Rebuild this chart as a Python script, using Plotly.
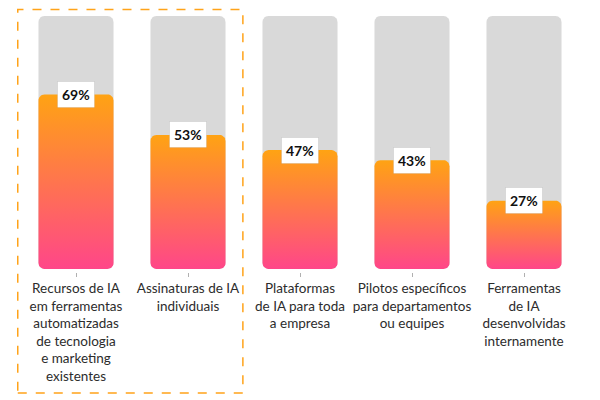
import numpy as np
import plotly.graph_objects as go

# chart data
categories = [
    "Recursos de IA<br>em ferramentas<br>automatizadas<br>de tecnologia<br>e marketing<br>existentes",
    "Assinaturas de IA<br>individuais",
    "Plataformas<br>de IA para toda<br>a empresa",
    "Pilotos específicos<br>para departamentos<br>ou equipes",
    "Ferramentas<br>de IA<br>desenvolvidas<br>internamente",
]
values = [69, 53, 47, 43, 27]
full = [100, 100, 100, 100, 100]
labels = ["69%", "53%", "47%", "43%", "27%"]

BAR_HALF = 0.335
RX, RY = 0.054, 2.4  # corner radius in axis units


def rounded_bar(xc, top, bottom=0):
    # outline of a rounded rectangle, going round the corners
    t = np.linspace(0, np.pi / 2, 8)
    l, r = xc - BAR_HALF, xc + BAR_HALF
    xs, ys = [], []
    corners = [
        (r - RX, top - RY, 0),          # top right
        (l + RX, top - RY, np.pi / 2),  # top left
        (l + RX, bottom + RY, np.pi),   # bottom left
        (r - RX, bottom + RY, 1.5 * np.pi),  # bottom right
    ]
    for cx, cy, a0 in corners:
        xs += list(cx + RX * np.cos(a0 + t))
        ys += list(cy + RY * np.sin(a0 + t))
    xs.append(xs[0])
    ys.append(ys[0])
    return xs, ys


fig = go.Figure()

# gray background bars
for i, v in enumerate(full):
    xs, ys = rounded_bar(i, v)
    fig.add_trace(go.Scatter(
        x=xs, y=ys, mode="lines", fill="toself",
        fillcolor="#d9d9d9", line=dict(width=0),
        hoverinfo="skip", showlegend=False
    ))

# gradient value bars
for i, v in enumerate(values):
    xs, ys = rounded_bar(i, v)
    fig.add_trace(go.Scatter(
        x=xs, y=ys, mode="lines", fill="toself",
        fillgradient=dict(type="vertical", start=0, stop=v,
                          colorscale=[[0, "#ff4689"], [1, "#ffa313"]]),
        line=dict(width=0),
        hovertemplate=labels[i] + "<extra></extra>", showlegend=False
    ))

# value labels
for i, v in enumerate(values):
    fig.add_annotation(
        x=i, y=v, text="<b>" + labels[i] + "</b>", showarrow=False,
        bgcolor="white", borderpad=4, bordercolor="rgba(0,0,0,0.08)",
        borderwidth=1, font=dict(size=14, color="#111")
    )

# dashed highlight around the first two categories
fig.add_shape(
    type="rect", xref="paper", yref="paper",
    x0=-0.004, x1=0.398, y0=-0.473, y1=1.025,
    line=dict(color="#ffa31a", width=1.5, dash="dash")
)

fig.update_xaxes(
    range=[-0.5, 4.5], tickmode="array",
    tickvals=list(range(len(categories))), ticktext=categories,
    ticks="outside", ticklen=4, tickcolor="#b0b0b0",
    showgrid=False, zeroline=False, showline=False, automargin=False,
    tickfont=dict(size=13.5, color="#2c2c2c")
)
fig.update_yaxes(range=[-1.2, 100], visible=False, automargin=False)

# the page adds an 8px body margin, so the figure is 8px smaller
fig.update_layout(
    template="none",
    width=592, height=392,
    margin=dict(l=12, r=20, t=8, b=128),
    plot_bgcolor="white", paper_bgcolor="white",
    font=dict(family="Lato, sans-serif"),
    showlegend=False
)

fig.write_html("out.html")
